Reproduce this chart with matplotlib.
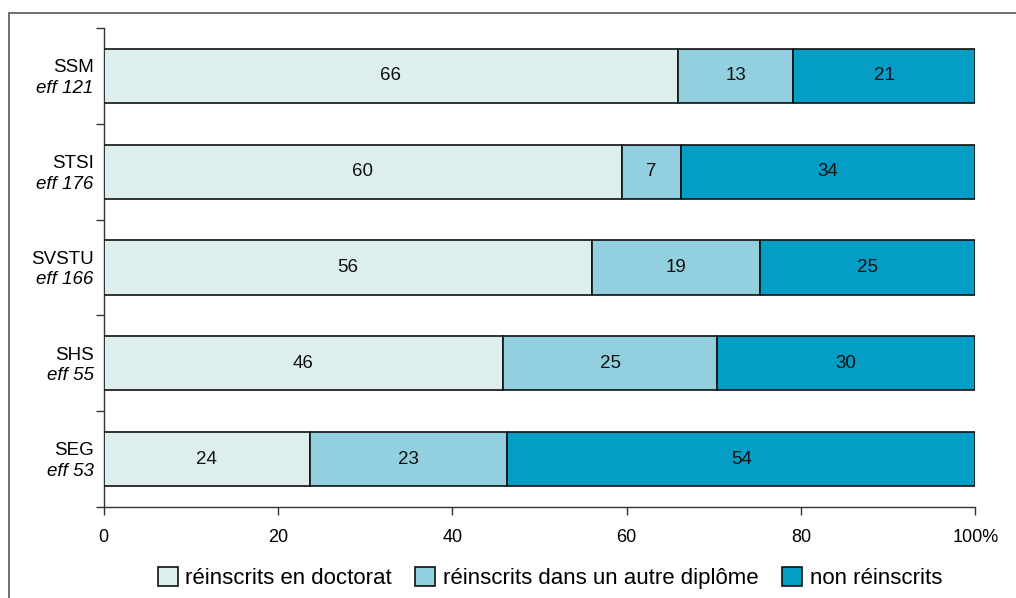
import matplotlib
matplotlib.use("Agg")
import matplotlib.pyplot as plt
from matplotlib.patches import Rectangle, Patch
import matplotlib.transforms as mtransforms

plt.rcParams['font.family'] = ['Liberation Sans', 'DejaVu Sans']

categories = ['SSM', 'STSI', 'SVSTU', 'SHS', 'SEG']
effectifs = ['eff 121', 'eff 176', 'eff 166', 'eff 55', 'eff 53']
series_names = ['réinscrits en doctorat', 'réinscrits dans un autre diplôme', 'non réinscrits']
reinscrits_doctorat = [65.9, 59.5, 56.0, 45.8, 23.7]
autre_diplome = [13.2, 6.7, 19.3, 24.6, 22.6]
non_reinscrits = [20.9, 33.8, 24.7, 29.6, 53.7]
labels_doctorat = [66, 60, 56, 46, 24]
labels_autre = [13, 7, 19, 25, 23]
labels_non = [21, 34, 25, 30, 54]
xticks = [0, 20, 40, 60, 80, 100]
xticklabels = ['0', '20', '40', '60', '80', '100%']

colors = ['#DDEEEE', '#92D0E0', '#049DC5']

W, H = 1016, 598
fig = plt.figure(figsize=(W / 100, H / 100), dpi=100)
ax = fig.add_axes([103.5 / W, 1 - 507 / H, (975.3 - 103.5) / W, (507 - 28) / H])

n = len(categories)
ypos = [n - 1 - i for i in range(n)]
series = [reinscrits_doctorat, autre_diplome, non_reinscrits]
series_labels = [labels_doctorat, labels_autre, labels_non]
left = [0.0] * n
for vals, labs, col, name in zip(series, series_labels, colors, series_names):
    bars = ax.barh(ypos, vals, left=left, height=0.565, color=col,
                   edgecolor='#111111', linewidth=1.2, label=name, zorder=3)
    ax.bar_label(bars, labels=[str(v) for v in labs], label_type='center',
                 fontsize=13.5, color='#111111')
    left = [l + v for l, v in zip(left, vals)]

ax.set_xlim(0, 100)
ax.set_ylim(-0.5, n - 0.5)
ax.set_xticks(xticks)
ax.set_xticklabels(xticklabels, fontsize=13)
ax.set_yticks([i - 0.5 for i in range(n + 1)])
ax.set_yticklabels([])
ax.tick_params(axis='both', direction='out', length=6, width=1, color='#333333', pad=10)
ax.tick_params(axis='y', pad=4)
for s in ['top', 'right']:
    ax.spines[s].set_visible(False)
for s in ['left', 'bottom']:
    ax.spines[s].set_color('#333333')
    ax.spines[s].set_linewidth(1.0)

trans = mtransforms.blended_transform_factory(fig.transFigure, ax.transData)
for y, cat, eff in zip(ypos, categories, effectifs):
    ax.text(93.5 / W, y + 0.085, cat, transform=trans, ha='right', va='center', fontsize=13.5)
    ax.text(93.5 / W, y - 0.13, eff, transform=trans, ha='right', va='center', fontsize=13.5,
            style='italic')

handles = [Patch(facecolor=c, edgecolor='#111111', linewidth=1.2) for c in colors]
fig.legend(handles, series_names, loc='center', bbox_to_anchor=(550 / W, 1 - 578 / H),
           ncol=3, frameon=False, fontsize=16, handlelength=0.9, handleheight=0.9,
           handletextpad=0.35, columnspacing=1.05, borderpad=0.2)

fig.add_artist(Rectangle((9 / W, -0.2), 1.5, 1.2 - 13 / H, transform=fig.transFigure,
                         fill=False, edgecolor='#555555', linewidth=1.2))

fig.savefig('out.png', dpi=100)
